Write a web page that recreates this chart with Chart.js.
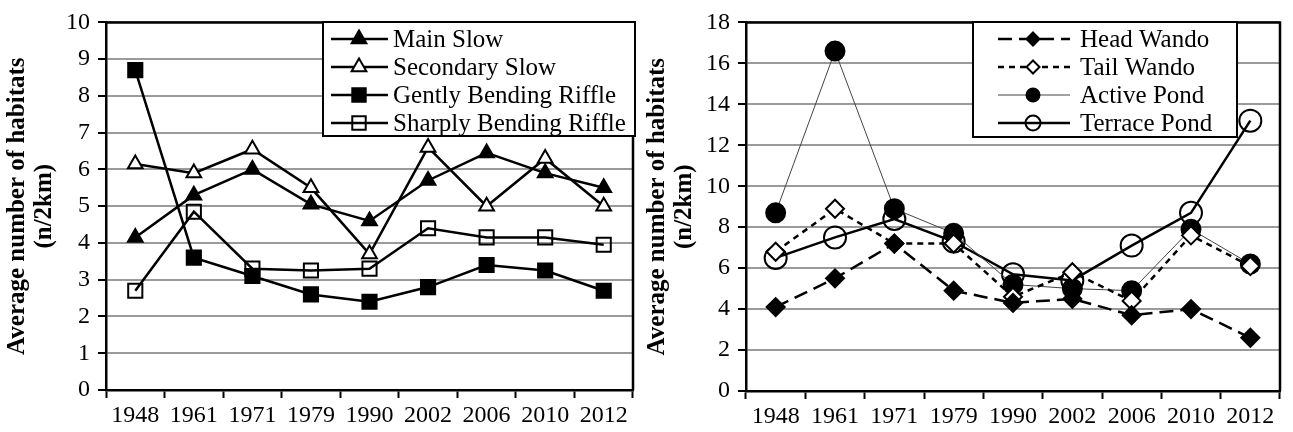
<!DOCTYPE html>
<html><head><meta charset="utf-8">
<script src="https://cdn.jsdelivr.net/npm/chart.js@4/dist/chart.umd.min.js"></script>
<style>
html,body{margin:0;padding:0;background:#fff;}
#w1{position:absolute;left:0;top:0;width:645px;height:432px;}
#w2{position:absolute;left:640px;top:0;width:653px;height:432px;}
</style></head><body>
<div id="w1"><canvas id="c1"></canvas></div>
<div id="w2"><canvas id="c2"></canvas></div>
<script>
const years = ['1948','1961','1971','1979','1990','2002','2006','2010','2012'];
const mainSlow      = [4.15, 5.3, 6.0, 5.05, 4.6, 5.7, 6.45, 5.9, 5.5];
const secondarySlow = [6.15, 5.9, 6.55, 5.5, 3.7, 6.6, 5.0, 6.3, 5.0];
const gentlyRiffle  = [8.7, 3.6, 3.1, 2.6, 2.4, 2.8, 3.4, 3.25, 2.7];
const sharplyRiffle = [2.7, 4.85, 3.3, 3.25, 3.3, 4.4, 4.15, 4.15, 3.95];
const headWando     = [4.1, 5.5, 7.2, 4.9, 4.3, 4.5, 3.7, 4.0, 2.6];
const tailWando     = [6.8, 8.9, 7.2, 7.2, 4.6, 5.8, 4.4, 7.6, 6.1];
const activePond    = [8.7, 16.6, 8.9, 7.7, 5.2, 5.0, 4.9, 7.9, 6.2];
const terracePond   = [6.5, 7.5, 8.4, 7.3, 5.7, 5.4, 7.1, 8.7, 13.2];
const yTitle = ['Average number of habitats', '(n/2km)'];

const SERIF = '"Liberation Serif", "Times New Roman", serif';

function drawMarker(ctx, style, x, y, r, fill, stroke, bw) {
  ctx.save();
  ctx.beginPath();
  if (style === 'triangle') {
    for (let i = 0; i < 3; i++) {
      const a = i * 2 * Math.PI / 3;
      const px = x + Math.sin(a) * r, py = y - Math.cos(a) * r;
      if (i === 0) ctx.moveTo(px, py); else ctx.lineTo(px, py);
    }
    ctx.closePath();
  } else if (style === 'rect') {
    const s = r * Math.SQRT1_2;
    ctx.rect(x - s, y - s, 2 * s, 2 * s);
  } else if (style === 'rectRot') {
    ctx.moveTo(x, y - r); ctx.lineTo(x + r, y); ctx.lineTo(x, y + r); ctx.lineTo(x - r, y); ctx.closePath();
  } else {
    ctx.arc(x, y, r, 0, Math.PI * 2);
  }
  ctx.fillStyle = fill; ctx.fill();
  ctx.lineWidth = bw; ctx.strokeStyle = stroke; ctx.setLineDash([]); ctx.stroke();
  ctx.restore();
}

const frameAndLegend = {
  id: 'frameAndLegend',
  afterDraw(chart, args, opts) {
    const ctx = chart.ctx, a = chart.chartArea;
    ctx.save();
    ctx.strokeStyle = '#000'; ctx.lineWidth = 2.5; ctx.setLineDash([]);
    ctx.beginPath();
    ctx.moveTo(a.left, a.top); ctx.lineTo(a.right, a.top); ctx.lineTo(a.right, a.bottom);
    ctx.stroke();
    const L = opts.box;
    ctx.fillStyle = '#fff';
    ctx.fillRect(L.x, L.y, L.w, L.h);
    ctx.lineWidth = 2; ctx.strokeStyle = '#000';
    ctx.strokeRect(L.x, L.y, L.w, L.h);
    ctx.font = opts.font;
    ctx.textBaseline = 'middle'; ctx.textAlign = 'left'; ctx.fillStyle = '#000';
    chart.data.datasets.forEach((ds, i) => {
      const y = L.y + opts.firstRow + i * opts.rowGap;
      ctx.save();
      ctx.strokeStyle = ds.borderColor; ctx.lineWidth = ds.borderWidth;
      ctx.setLineDash(ds.borderDash || []);
      ctx.beginPath(); ctx.moveTo(opts.lineX0, y); ctx.lineTo(opts.lineX1, y); ctx.stroke();
      ctx.restore();
      drawMarker(ctx, ds.pointStyle, opts.markX, y, opts.markR[i], ds.pointBackgroundColor, ds.pointBorderColor, ds.pointBorderWidth);
      ctx.fillStyle = '#000';
      ctx.fillText(ds.label, opts.textX, y + 1);
    });
    ctx.restore();
  }
};

function ds(label, data, style, r, fill, lw, dash, lineColor) {
  return {
    label, data, pointStyle: style, pointRadius: r, pointHoverRadius: r,
    pointBackgroundColor: fill, pointBorderColor: '#000', pointBorderWidth: 2,
    borderColor: lineColor || '#000', borderWidth: lw, borderDash: dash || [],
    tension: 0, fill: false
  };
}

function makeOptions(yMax, yStep, padRight, xHeight, legendOpts) {
  return {
    responsive: false, animation: false, maintainAspectRatio: false,
    layout: { padding: { left: 0, right: padRight, top: 22, bottom: 0 } },
    plugins: { legend: { display: false }, tooltip: { enabled: false }, frameAndLegend: legendOpts },
    scales: {
      x: {
        type: 'category', offset: true,
        grid: { display: true, drawOnChartArea: false, drawTicks: true, tickLength: 8, tickColor: '#000', tickWidth: 2, offset: true },
        border: { display: true, color: '#000', width: 2.5 },
        ticks: { color: '#000', font: { family: SERIF, size: 24 }, padding: 3, maxRotation: 0, autoSkip: false },
        afterFit(s) { s.height = xHeight; }
      },
      y: {
        min: 0, max: yMax,
        grid: { color: '#9a9a9a', lineWidth: 2, tickColor: '#000', tickLength: 8, tickWidth: 2 },
        border: { display: true, color: '#000', width: 2.5 },
        ticks: { stepSize: yStep, color: '#000', font: { family: SERIF, size: 24 }, padding: 8 },
        title: { display: true, text: yTitle, color: '#000', font: { family: SERIF, size: 25, weight: 'bold', lineHeight: 1.08 }, padding: { top: 4, bottom: 0 } },
        afterFit(s) { s.width = 106; }
      }
    }
  };
}

const c1 = document.getElementById('c1');
c1.width = 645; c1.height = 432;
new Chart(c1, {
  type: 'line',
  data: {
    labels: years,
    datasets: [
      ds('Main Slow', mainSlow, 'triangle', 8.5, '#000', 2.5),
      ds('Secondary Slow', secondarySlow, 'triangle', 8.5, '#fff', 2.5),
      ds('Gently Bending Riffle', gentlyRiffle, 'rect', 10, '#000', 2.5),
      ds('Sharply Bending Riffle', sharplyRiffle, 'rect', 10, 'rgba(0,0,0,0)', 2.5)
    ]
  },
  options: makeOptions(10, 1, 12, 42, {
    box: { x: 323, y: 22, w: 312, h: 114 },
    font: '25px ' + SERIF, firstRow: 17, rowGap: 28,
    lineX0: 331, lineX1: 388, markX: 359, textX: 393,
    markR: [8.5, 8.5, 9.5, 9.5]
  })
  , plugins: [frameAndLegend]
});

const c2 = document.getElementById('c2');
c2.width = 653; c2.height = 432;
new Chart(c2, {
  type: 'line',
  data: {
    labels: years,
    datasets: [
      ds('Head Wando', headWando, 'rectRot', 9, '#000', 2.5, [14, 7]),
      ds('Tail Wando', tailWando, 'rectRot', 9, '#fff', 2.5, [6, 5]),
      ds('Active Pond', activePond, 'circle', 9.5, '#000', 1, [], '#444'),
      ds('Terrace Pond', terracePond, 'circle', 11, 'rgba(0,0,0,0)', 2.5)
    ]
  },
  options: makeOptions(18, 2, 1, 41, {
    box: { x: 333, y: 22, w: 264, h: 115 },
    font: '25px ' + SERIF, firstRow: 17, rowGap: 28,
    lineX0: 358, lineX1: 430, markX: 393, textX: 440,
    markR: [6.5, 6.5, 6.5, 7.5]
  })
  , plugins: [frameAndLegend]
});
</script>
</body></html>
